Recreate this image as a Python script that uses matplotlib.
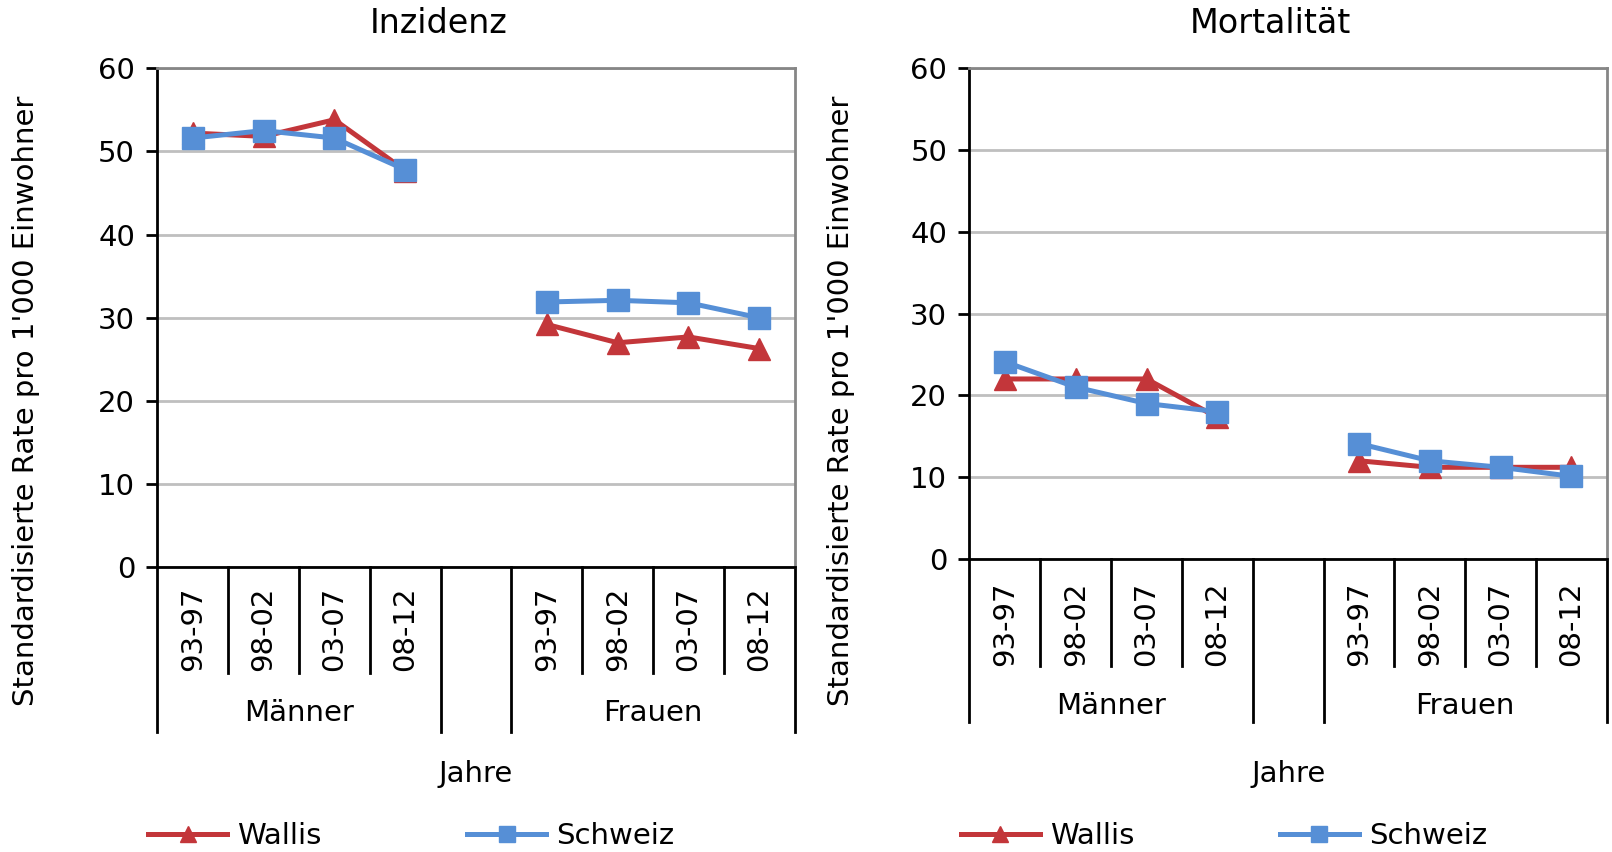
import matplotlib
matplotlib.use("Agg")
import matplotlib.pyplot as plt
import matplotlib.transforms as mtransforms

plt.rcParams['font.family'] = ['DejaVu Sans']

perioden = ["93-97", "98-02", "03-07", "08-12"]
gruppen = ["Männer", "Frauen"]

# Inzidenz
inz_wallis_m = [52.2, 51.8, 53.8, 47.7]
inz_wallis_f = [29.2, 27.0, 27.7, 26.3]
inz_schweiz_m = [51.6, 52.5, 51.6, 47.8]
inz_schweiz_f = [31.9, 32.1, 31.8, 30.0]

# Mortalitaet
mor_wallis_m = [22.0, 22.0, 22.0, 17.3]
mor_wallis_f = [12.0, 11.2, 11.2, 11.2]
mor_schweiz_m = [24.1, 21.0, 19.0, 18.0]
mor_schweiz_f = [14.1, 12.0, 11.2, 10.1]

RED = "#C3363A"
BLUE = "#568FD6"
FS = 21

fig = plt.figure(figsize=(16.12, 8.52), dpi=100)


def panel(rect, title, title_x, wm, wf, sm, sf, lay):
    ax = fig.add_axes(rect)
    xm = [0, 1, 2, 3]
    xf = [5, 6, 7, 8]
    lw, ms = 3.6, 16
    ax.plot(xm, wm, color=RED, lw=lw, marker="^", ms=ms, label="Wallis", zorder=3)
    ax.plot(xf, wf, color=RED, lw=lw, marker="^", ms=ms, zorder=3)
    ax.plot(xm, sm, color=BLUE, lw=lw, marker="s", ms=ms, label="Schweiz", zorder=4)
    ax.plot(xf, sf, color=BLUE, lw=lw, marker="s", ms=ms, zorder=4)
    ax.set_xlim(-0.5, 8.5)
    ax.set_ylim(0, 60)
    ax.set_yticks(range(0, 61, 10))
    ax.yaxis.grid(True, color="#BFBFBF", lw=2)
    ax.set_axisbelow(True)
    ax.tick_params(axis="y", labelsize=FS, length=8, width=2, direction="out", pad=8)
    ax.set_xticks([])
    for s in ["left", "bottom"]:
        ax.spines[s].set_color("black")
        ax.spines[s].set_linewidth(2)
    for s in ["top", "right"]:
        ax.spines[s].set_color("#868686")
        ax.spines[s].set_linewidth(2)

    tr = mtransforms.blended_transform_factory(ax.transData, fig.transFigure)
    y0 = rect[1]
    sep_end, grp_end, lab_y, grp_y = lay
    # separators
    for b in [-0.5, 0.5, 1.5, 2.5, 3.5, 4.5, 5.5, 6.5, 7.5, 8.5]:
        end = grp_end if b in (-0.5, 3.5, 4.5, 8.5) else sep_end
        ax.plot([b, b], [y0, end], color="black", lw=2, transform=tr, clip_on=False)
    for i, p in enumerate(perioden):
        for x in (i, i + 5):
            ax.text(x, lab_y, p, rotation=90, ha="center", va="center",
                    fontsize=FS, transform=tr)
    ax.text(1.5, grp_y, gruppen[0], ha="center", va="center", fontsize=FS, transform=tr)
    ax.text(6.5, grp_y, gruppen[1], ha="center", va="center", fontsize=FS, transform=tr)
    ax.text(4.0, 0.091, "Jahre", ha="center", va="center", fontsize=FS, transform=tr)
    fig.text(title_x, 0.972, title, ha="center", va="center", fontsize=24)
    return ax


ax1 = panel([0.0976, 0.334, 0.3954, 0.586], "Inzidenz", 0.272,
            inz_wallis_m, inz_wallis_f, inz_schweiz_m, inz_schweiz_f,
            (0.210, 0.141, 0.262, 0.163))
ax2 = panel([0.6014, 0.344, 0.3954, 0.576], "Mortalität", 0.788,
            mor_wallis_m, mor_wallis_f, mor_schweiz_m, mor_schweiz_f,
            (0.218, 0.152, 0.268, 0.171))

ylab = "Standardisierte Rate pro 1'000 Einwohner"
fig.text(0.016, 0.53, ylab, rotation=90, ha="center", va="center", fontsize=FS)
fig.text(0.522, 0.53, ylab, rotation=90, ha="center", va="center", fontsize=FS)

for ax, lx in [(ax1, 0.092), (ax2, 0.596)]:
    ax.legend(loc="center left", bbox_to_anchor=(lx, 0.019), bbox_transform=fig.transFigure,
              ncol=2, frameon=False, fontsize=FS, handlelength=2.7, handletextpad=0.35,
              columnspacing=5.0, borderpad=0, borderaxespad=0, markerscale=0.75)

fig.savefig("out.png", dpi=100)
